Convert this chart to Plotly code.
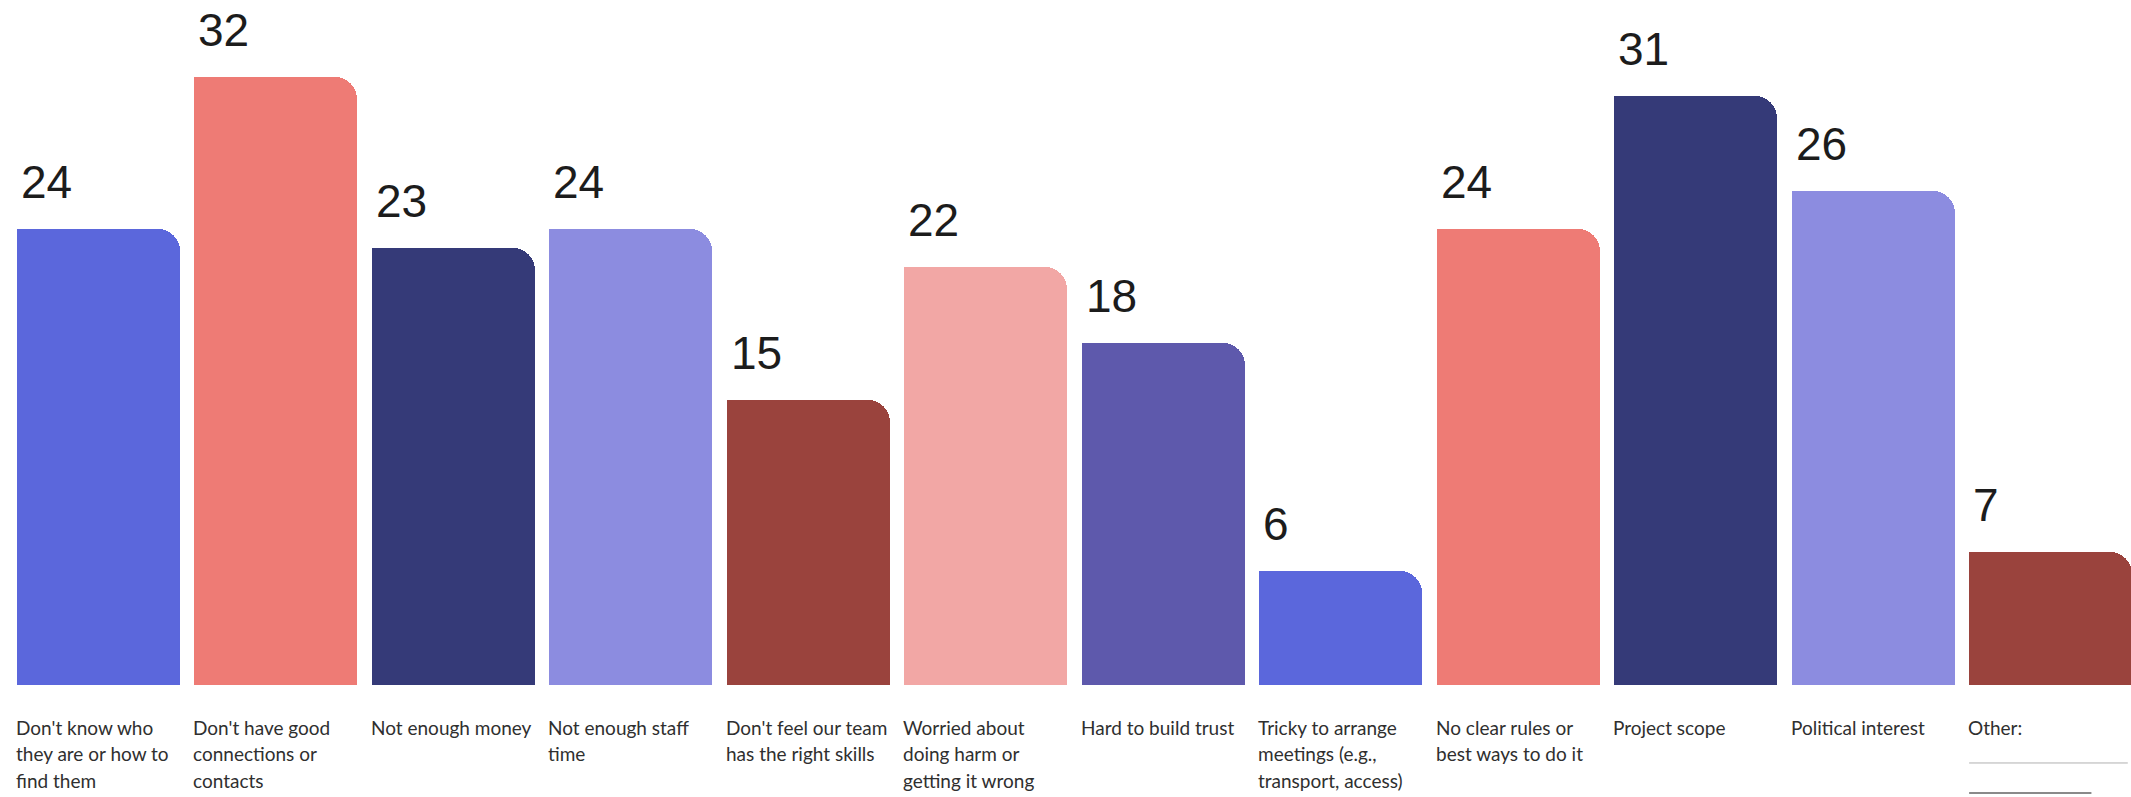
import plotly.graph_objects as go

categories = [
    "Don't know who<br>they are or how to<br>find them",
    "Don't have good<br>connections or<br>contacts",
    "Not enough money",
    "Not enough staff<br>time",
    "Don't feel our team<br>has the right skills",
    "Worried about<br>doing harm or<br>getting it wrong",
    "Hard to build trust",
    "Tricky to arrange<br>meetings (e.g.,<br>transport, access)",
    "No clear rules or<br>best ways to do it",
    "Project scope",
    "Political interest",
    "Other:",
]
values = [24, 32, 23, 24, 15, 22, 18, 6, 24, 31, 26, 7]
colors = ["#5B67DC", "#EE7B75", "#353A78", "#8C8CE0", "#9A433D", "#F2A7A5",
          "#5E59AC", "#5B67DC", "#EE7B75", "#353A78", "#8C8CE0", "#9A433D"]

positions = list(range(len(values)))
BAR_W = 0.918
HALF = BAR_W / 2

fig = go.Figure()
# main bars with rounded top corners
fig.add_trace(go.Bar(
    x=positions, y=values, width=BAR_W, offset=-HALF,
    marker=dict(color=colors, cornerradius=22, line=dict(width=0)),
    hoverinfo="skip", showlegend=False,
))
# left half without rounding so only the top-right corner stays rounded
fig.add_trace(go.Bar(
    x=positions, y=values, width=BAR_W / 2, offset=-HALF,
    marker=dict(color=colors, line=dict(width=0)),
    hoverinfo="skip", showlegend=False,
))

annotations = []
for p, v in zip(positions, values):
    annotations.append(dict(
        x=p - HALF, y=v, xref="x", yref="y", xanchor="left", yanchor="bottom",
        text=str(v), showarrow=False, xshift=2, yshift=19,
        font=dict(family="Liberation Sans, Arial", size=46, color="#1c1c1c"),
    ))

LINE_PITCH = 26.5
for p, lab in zip(positions, categories):
    for k, line in enumerate(lab.split("<br>")):
        annotations.append(dict(
            x=p - HALF, y=0, xref="x", yref="y", xanchor="left", yanchor="middle",
            text=line, showarrow=False, xshift=-3, yshift=-(42 + k * LINE_PITCH),
            font=dict(family="Lato, Noto Sans, sans-serif", size=19, color="#2f2f2f"),
        ))

last = positions[-1]
shapes = [
    dict(type="line", xref="x", yref="y", x0=last - HALF, x1=last + 0.435,
         y0=-4.1, y1=-4.1, line=dict(color="#b0b0b0", width=1)),
    dict(type="line", xref="x", yref="y", x0=last - HALF, x1=last + 0.23,
         y0=-5.68, y1=-5.68, line=dict(color="#8a8a8a", width=2)),
]

fig.update_layout(
    width=2131, height=797,
    margin=dict(l=0, r=0, t=0, b=0),
    paper_bgcolor="white", plot_bgcolor="white",
    barmode="overlay", bargap=0,
    xaxis=dict(range=[-0.553, 11.453], visible=False, fixedrange=True),
    yaxis=dict(range=[-5.89, 36.05], visible=False, fixedrange=True),
    annotations=annotations, shapes=shapes,
)

fig.write_html("out.html")
